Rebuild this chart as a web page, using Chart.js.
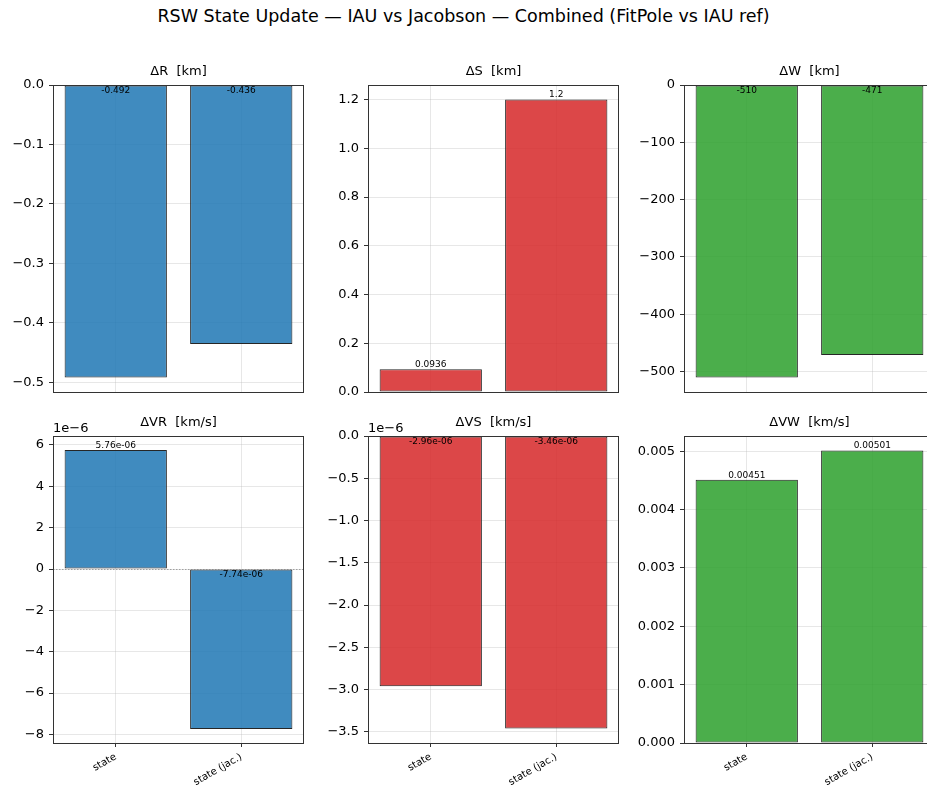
<!DOCTYPE html>
<html>
<head>
<meta charset="utf-8">
<script src="https://cdn.jsdelivr.net/npm/chart.js@4.4.1/dist/chart.umd.min.js"></script>
<style>
  html, body { margin: 0; padding: 0; background: #fff; overflow: hidden; }
  body { width: 927px; height: 796px; position: relative; }
  #suptitle {
    position: absolute; left: 0; top: 6px; width: 927px; text-align: center;
    font: 17.5px "DejaVu Sans", sans-serif; color: #000;
  }
  .panel { position: absolute; }
</style>
</head>
<body>
<div id="suptitle">RSW State Update — IAU vs Jacobson — Combined (FitPole vs IAU ref)</div>
<div class="panel" id="p0"><canvas id="c0"></canvas></div>
<div class="panel" id="p1"><canvas id="c1"></canvas></div>
<div class="panel" id="p2"><canvas id="c2"></canvas></div>
<div class="panel" id="p3"><canvas id="c3"></canvas></div>
<div class="panel" id="p4"><canvas id="c4"></canvas></div>
<div class="panel" id="p5"><canvas id="c5"></canvas></div>
<script>
// --- data ---
const categories = ['state', 'state (jac.)'];

const dR  = [-0.492, -0.436];      // km
const dS  = [0.0936, 1.2];         // km
const dW  = [-510, -471];          // km
const dVR = [5.76e-6, -7.74e-6];   // km/s
const dVS = [-2.96e-6, -3.46e-6];  // km/s
const dVW = [0.00451, 0.00501];    // km/s

// tick values (in displayed units, before the 1e-6 offset)
const ticksR  = [0, -0.1, -0.2, -0.3, -0.4, -0.5];
const ticksS  = [0, 0.2, 0.4, 0.6, 0.8, 1.0, 1.2];
const ticksW  = [0, -100, -200, -300, -400, -500];
const ticksVR = [6, 4, 2, 0, -2, -4, -6, -8];
const ticksVS = [0, -0.5, -1.0, -1.5, -2.0, -2.5, -3.0, -3.5];
const ticksVW = [0, 0.001, 0.002, 0.003, 0.004, 0.005];

// axis limits (data units)
const limR  = [-0.5166, 0];
const limS  = [0, 1.26];
const limW  = [-535.5, 0];
const limVR = [-8.415e-6, 6.435e-6];
const limVS = [-3.633e-6, 0];
const limVW = [0, 0.00526];

const titles = ['ΔR  [km]', 'ΔS  [km]', 'ΔW  [km]', 'ΔVR  [km/s]', 'ΔVS  [km/s]', 'ΔVW  [km/s]'];

// --- look ---
const FONT = '"DejaVu Sans", sans-serif';
const colors = ['rgba(31,119,180,0.85)', 'rgba(214,39,40,0.85)', 'rgba(44,160,44,0.85)'];
const plotLefts = [53, 368, 684];
const plotTops = [85, 436];
const PLOT_W = 251, PLOT_H = 307;
const Y_AXIS_W = 53, TITLE_H = 22;
const X_AXIS_H = [13, 53]; // top row must cover the y-label overflow (~12.8px)

const panels = [
  { data: dR,  ticks: ticksR,  lim: limR,  mult: 1,    dec: 1 },
  { data: dS,  ticks: ticksS,  lim: limS,  mult: 1,    dec: 1 },
  { data: dW,  ticks: ticksW,  lim: limW,  mult: 1,    dec: 0 },
  { data: dVR, ticks: ticksVR, lim: limVR, mult: 1e-6, dec: 0 },
  { data: dVS, ticks: ticksVS, lim: limVS, mult: 1e-6, dec: 1 },
  { data: dVW, ticks: ticksVW, lim: limVW, mult: 1,    dec: 3 }
];

// python-like '%.3g'
function g3(v) {
  const e = Math.floor(Math.log10(Math.abs(v)));
  if (e < -4 || e >= 3) {
    let [m, ex] = v.toExponential(2).split('e');
    m = m.replace(/\.?0+$/, '');
    const n = parseInt(ex, 10);
    return m + 'e' + (n < 0 ? '-' : '+') + String(Math.abs(n)).padStart(2, '0');
  }
  return String(parseFloat(v.toPrecision(3)));
}

const panelDecor = {
  id: 'panelDecor',
  afterDraw(chart, args, opts) {
    const ctx = chart.ctx;
    const a = chart.chartArea;
    const y = chart.scales.y;
    ctx.save();
    // zero line
    const y0 = Math.round(y.getPixelForValue(0)) + 0.5;
    ctx.strokeStyle = 'rgba(120,120,120,0.8)';
    ctx.lineWidth = 0.8;
    ctx.setLineDash([1.5, 1.5]);
    ctx.beginPath();
    ctx.moveTo(a.left, y0);
    ctx.lineTo(a.right, y0);
    ctx.stroke();
    ctx.setLineDash([]);
    // frame (all four spines)
    ctx.strokeStyle = '#333';
    ctx.lineWidth = 1;
    ctx.strokeRect(Math.round(a.left) + 0.5, Math.round(a.top) + 0.5,
                   Math.round(a.right - a.left) - 1, Math.round(a.bottom - a.top));
    // subplot title, centred over the plot area
    ctx.fillStyle = '#000';
    ctx.font = '13px ' + FONT;
    ctx.textAlign = 'center';
    ctx.textBaseline = 'middle';
    ctx.fillText(opts.title, (a.left + a.right) / 2, a.top - 13);
    // value labels
    ctx.font = '9px ' + FONT;
    const meta = chart.getDatasetMeta(0);
    const vals = chart.data.datasets[0].data;
    meta.data.forEach((bar, i) => {
      const v = vals[i];
      if (v >= 0) {
        ctx.textBaseline = 'bottom';
        ctx.fillText(g3(v), bar.x, bar.y);
      } else {
        ctx.textBaseline = 'top';
        ctx.fillText(g3(v), bar.x, y.getPixelForValue(0) + 1);
      }
    });
    // offset text
    if (opts.offsetText) {
      ctx.font = '13px ' + FONT;
      ctx.textAlign = 'left';
      ctx.textBaseline = 'alphabetic';
      ctx.fillText(opts.offsetText, a.left, a.top - 4);
    }
    ctx.restore();
  }
};

panels.forEach((p, k) => {
  const row = Math.floor(k / 3), col = k % 3;
  const box = document.getElementById('p' + k);
  const left = plotLefts[col] - Y_AXIS_W;
  const top = plotTops[row] - TITLE_H;
  box.style.left = left + 'px';
  box.style.top = top + 'px';
  box.style.width = (Y_AXIS_W + PLOT_W) + 'px';
  box.style.height = (TITLE_H + PLOT_H + X_AXIS_H[row]) + 'px';

  const bottomRow = row === 1;
  new Chart(document.getElementById('c' + k).getContext('2d'), {
    type: 'bar',
    data: {
      labels: categories,
      datasets: [{
        data: p.data,
        backgroundColor: colors[col],
        borderColor: '#262626',
        borderWidth: 1,
        borderSkipped: false,
        categoryPercentage: 1.0,
        barPercentage: 0.815
      }]
    },
    options: {
      responsive: true,
      maintainAspectRatio: false,
      animation: false,
      events: [],
      layout: { padding: { top: TITLE_H, left: 0, right: 0, bottom: 0 } },
      plugins: {
        legend: { display: false },
        tooltip: { enabled: false },
        title: { display: false },
        panelDecor: { title: titles[k], offsetText: p.mult !== 1 ? '1e\u22126' : '' }
      },
      scales: {
        x: {
          z: 1,
          offset: true,
          border: { display: false },
          grid: {
            offset: false,
            color: 'rgba(176,176,176,0.3)',
            lineWidth: 1,
            drawTicks: bottomRow,
            tickLength: 4,
            tickColor: '#333'
          },
          ticks: {
            display: bottomRow,
            autoSkip: false,
            minRotation: 30,
            maxRotation: 30,
            padding: 4,
            color: '#000',
            font: { family: FONT, size: 10 }
          },
          afterFit: s => { s.height = X_AXIS_H[row]; }
        },
        y: {
          z: 1,
          min: p.lim[0],
          max: p.lim[1],
          border: { display: false },
          grid: {
            color: 'rgba(176,176,176,0.3)',
            lineWidth: 1,
            tickLength: 4,
            tickColor: '#333'
          },
          ticks: {
            padding: 5,
            color: '#000',
            font: { family: FONT, size: 13 },
            callback: v => (v / p.mult).toFixed(p.dec).replace('-', '\u2212')
          },
          afterBuildTicks: s => { s.ticks = p.ticks.map(t => ({ value: t * p.mult })); },
          afterFit: s => { s.width = Y_AXIS_W; }
        }
      }
    },
    plugins: [panelDecor]
  });
});
</script>
</body>
</html>
